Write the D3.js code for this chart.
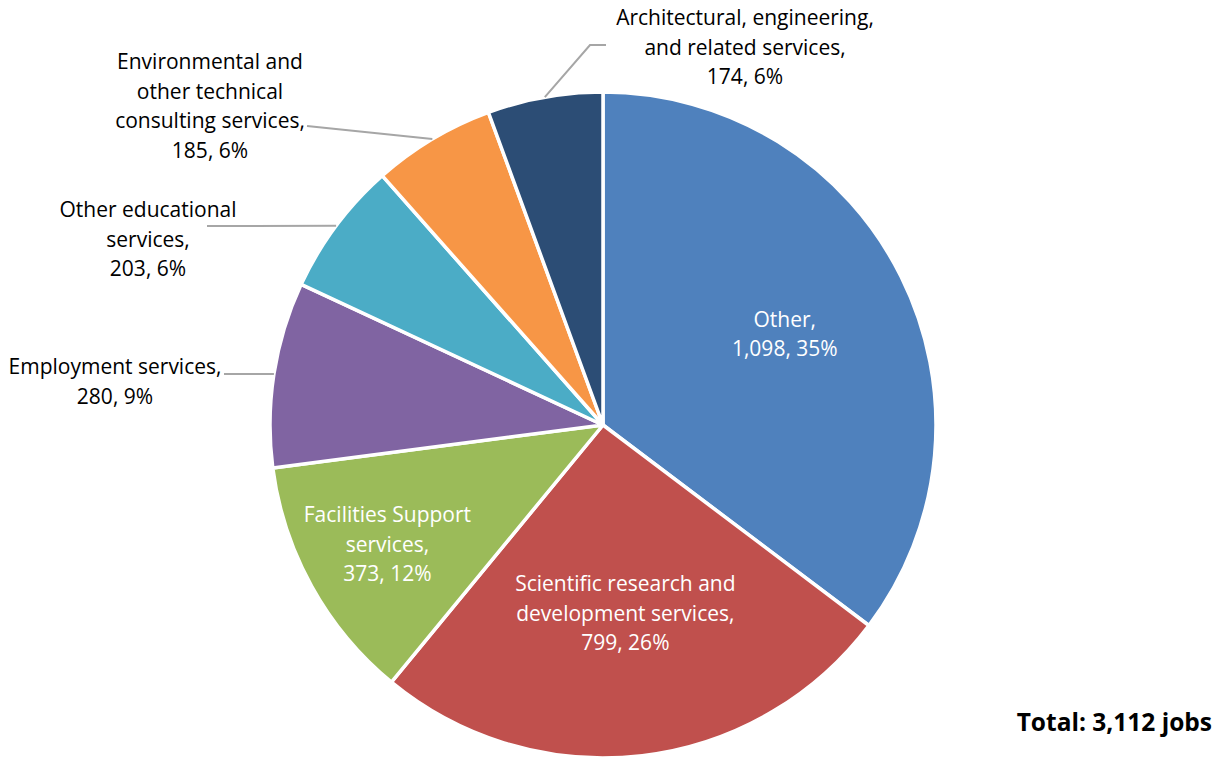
<!DOCTYPE html>
<html>
<head>
<meta charset="utf-8">
<script src="https://cdn.jsdelivr.net/npm/d3@7"></script>
<style>
  html, body { margin: 0; padding: 0; background: #fff; }
  svg { display: block; }
  text { font-family: "Open Sans", Lato, sans-serif; }
</style>
</head>
<body>
<svg id="chart" width="1225" height="759"></svg>
<script>
// ---- data ----
const categories = [
  "Other",
  "Scientific research and development services",
  "Facilities Support services",
  "Employment services",
  "Other educational services",
  "Environmental and other technical consulting services",
  "Architectural, engineering, and related services"
];
const jobs = [1098, 799, 373, 280, 203, 185, 174];
const percents = [35, 26, 12, 9, 6, 6, 6];
const labelLines = [
  ["Other,"],
  ["Scientific research and", "development services,"],
  ["Facilities Support", "services,"],
  ["Employment services,"],
  ["Other educational", "services,"],
  ["Environmental and", "other technical", "consulting services,"],
  ["Architectural, engineering,", "and related services,"]
];
const colors = ["#4F81BD", "#C0504D", "#9BBB59", "#8064A2", "#4BACC6", "#F79646", "#2C4D75"];
const totalLabel = "Total: 3,112 jobs";

// ---- layout ----
const W = 1225, H = 759;
const cx = 603, cy = 425, R = 333;
// label placement: inside labels by radial factor, outside labels by text center and leader path
const layout = [
  { inside: true, rf: 0.61 },
  { inside: true, rf: 0.57 },
  { inside: true, rf: 0.74 },
  { inside: false, x: 115, y: 367, lead: [[224, 374]] },
  { inside: false, x: 148, y: 210, lead: [[207, 226]] },
  { inside: false, x: 210, y: 62, lead: [[307, 126]] },
  { inside: false, x: 745, y: 18, lead: [[606, 45], [590, 45]] }
];
const lineH = 29.5;
const fmt = d3.format(",");

const svg = d3.select("#chart");
const g = svg.append("g").attr("transform", `translate(${cx},${cy})`);

const pie = d3.pie().sort(null).value(d => d)(jobs);
const arc = d3.arc().innerRadius(0).outerRadius(R);

g.selectAll("path.slice")
  .data(pie)
  .join("path")
  .attr("class", "slice")
  .attr("d", arc)
  .attr("fill", (d, i) => colors[i])
  .attr("stroke", "#fff")
  .attr("stroke-width", 3.5)
  .attr("stroke-linejoin", "round");

// labels
pie.forEach((d, i) => {
  const mid = (d.startAngle + d.endAngle) / 2;
  const lines = labelLines[i].concat([fmt(jobs[i]) + ", " + percents[i] + "%"]);
  const L = layout[i];
  let x, y0, fill;
  if (L.inside) {
    x = cx + Math.sin(mid) * R * L.rf;
    const yc = cy - Math.cos(mid) * R * L.rf;
    y0 = yc - (lines.length - 1) * lineH / 2;
    fill = "#fff";
  } else {
    x = L.x; y0 = L.y; fill = "#000";
    const ex = cx + Math.sin(mid) * R, ey = cy - Math.cos(mid) * R;
    const pts = L.lead.concat([[ex, ey]]);
    svg.append("path")
      .attr("d", d3.line()(pts))
      .attr("fill", "none")
      .attr("stroke", "#A6A6A6")
      .attr("stroke-width", 2);
  }
  const t = svg.append("text")
    .attr("text-anchor", "middle")
    .attr("fill", fill)
    .attr("font-size", 21);
  lines.forEach((s, k) => {
    t.append("tspan")
      .attr("x", x)
      .attr("y", y0 + k * lineH)
      .attr("dy", "0.35em")
      .text(s);
  });
});

svg.append("text")
  .attr("x", 1212)
  .attr("y", 722)
  .attr("dy", "0.35em")
  .attr("text-anchor", "end")
  .attr("font-size", 24.5)
  .attr("font-weight", "bold")
  .attr("fill", "#000")
  .text(totalLabel);
</script>
</body>
</html>
